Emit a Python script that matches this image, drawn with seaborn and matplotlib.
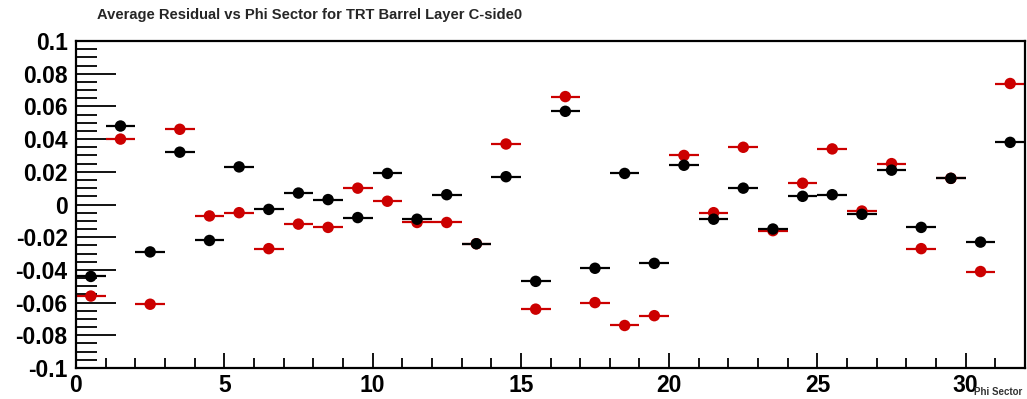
import matplotlib
matplotlib.use("Agg")
import matplotlib.pyplot as plt
import seaborn as sns
import numpy as np
import pandas as pd
from matplotlib.ticker import MultipleLocator, FuncFormatter

sectors = [i + 0.5 for i in range(32)]
black_vals = [-0.044, 0.048, -0.029, 0.032, -0.022, 0.023, -0.003, 0.007,
              0.003, -0.008, 0.019, -0.009, 0.006, -0.024, 0.017, -0.047,
              0.057, -0.039, 0.019, -0.036, 0.024, -0.009, 0.010, -0.015,
              0.005, 0.006, -0.006, 0.021, -0.014, 0.016, -0.023, 0.038]
red_vals = [-0.056, 0.040, -0.061, 0.046, -0.007, -0.005, -0.027, -0.012,
            -0.014, 0.010, 0.002, -0.011, -0.011, -0.024, 0.037, -0.064,
            0.066, -0.060, -0.074, -0.068, 0.030, -0.005, 0.035, -0.016,
            0.013, 0.034, -0.004, 0.025, -0.027, 0.016, -0.041, 0.074]
title = "Average Residual vs Phi Sector for TRT Barrel Layer C-side0"
xlabel = "Phi Sector"

RED = "#cc0000"
BLACK = "#000000"

df = pd.DataFrame({
    "x": sectors + sectors,
    "y": red_vals + black_vals,
    "series": ["red"] * 32 + ["black"] * 32,
})

sns.set_style("white")
plt.rcParams["font.family"] = ["Liberation Sans", "DejaVu Sans"]

fig = plt.figure(figsize=(10.27, 3.99), dpi=100)
ax = fig.add_axes([76 / 1027, 31 / 399, 949 / 1027, 327 / 399])

for name, col in [("red", RED), ("black", BLACK)]:
    sub = df[df["series"] == name]
    ax.errorbar(sub["x"], sub["y"], xerr=0.5, yerr=0.0015, fmt="none",
                ecolor=col, elinewidth=1.6, capsize=0, zorder=2)
    sns.scatterplot(data=sub, x="x", y="y", color=col, s=68, linewidth=0,
                    edgecolor="none", legend=False, ax=ax, zorder=3)

ax.set_xlim(0, 32)
ax.set_ylim(-0.1, 0.1)
ax.set_xlabel("")
ax.set_ylabel("")


def yfmt(v, p):
    v = round(v, 4)
    if abs(v) < 1e-9:
        return "0"
    return "%g" % v


ax.xaxis.set_major_locator(MultipleLocator(5))
ax.xaxis.set_minor_locator(MultipleLocator(1))
ax.yaxis.set_major_locator(MultipleLocator(0.02))
ax.yaxis.set_minor_locator(MultipleLocator(0.005))
ax.yaxis.set_major_formatter(FuncFormatter(yfmt))
ax.xaxis.set_major_formatter(FuncFormatter(lambda v, p: "%g" % v))

ax.tick_params(axis="both", which="both", direction="in", top=False, right=False,
               left=True, bottom=True, width=1.3, colors="black")
ax.tick_params(axis="y", which="major", length=29, labelsize=16.5, pad=6)
ax.tick_params(axis="y", which="minor", length=15)
ax.tick_params(axis="x", which="major", length=11, labelsize=16.5, pad=4)
ax.tick_params(axis="x", which="minor", length=7)
for lab in ax.get_xticklabels() + ax.get_yticklabels():
    lab.set_fontweight("bold")

for sp in ax.spines.values():
    sp.set_visible(True)
    sp.set_color("black")
    sp.set_linewidth(1.6)

fig.text(97 / 1027, 1 - 15 / 399, title, fontsize=10.6, fontweight="bold",
         ha="left", va="center")
fig.text(1022 / 1027, 2 / 399, xlabel, fontsize=7, fontweight="bold",
         ha="right", va="bottom", color="#333333")

fig.savefig("out.png", dpi=100, facecolor="white")
